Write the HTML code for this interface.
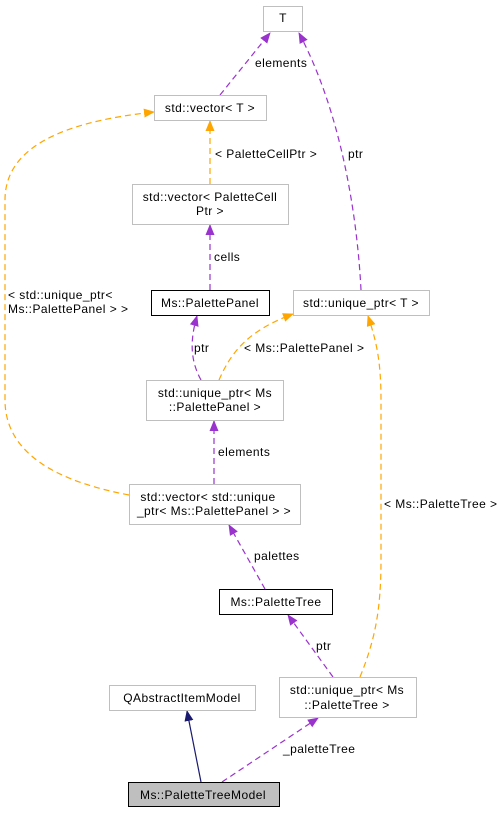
<!DOCTYPE html>
<html><head><meta charset="utf-8"><style>
html,body{margin:0;padding:0;background:#fff}
text{font-family:"Liberation Sans",sans-serif;font-size:12px;letter-spacing:0.45px;fill:#000}
</style></head><body>
<svg width="500" height="813" viewBox="0 0 500 813" xmlns="http://www.w3.org/2000/svg">
<defs>
<marker id="p" markerWidth="11" markerHeight="9" refX="10" refY="4.5" orient="auto" markerUnits="userSpaceOnUse"><path d="M0,0 L11,4.5 L0,9 Z" fill="#9a32cd"/></marker>
<marker id="o" markerWidth="11" markerHeight="9" refX="10" refY="4.5" orient="auto" markerUnits="userSpaceOnUse"><path d="M0,0 L11,4.5 L0,9 Z" fill="#ffa500"/></marker>
<marker id="n" markerWidth="11" markerHeight="9" refX="10" refY="4.5" orient="auto" markerUnits="userSpaceOnUse"><path d="M0,0 L11,4.5 L0,9 Z" fill="#191970"/></marker>
</defs>
<g fill="none" stroke-width="1.2" stroke-dasharray="6,4">
<path d="M220,95 L270,33" stroke="#9a32cd" marker-end="url(#p)"/>
<path d="M361,290 C358,230 345,120 299,33" stroke="#9a32cd" marker-end="url(#p)"/>
<path d="M210,184 L210,121" stroke="#ffa500" marker-end="url(#o)"/>
<path d="M210,290 L210,225" stroke="#9a32cd" marker-end="url(#p)"/>
<path d="M201,380 C190,360 190,340 197,316" stroke="#9a32cd" marker-end="url(#p)"/>
<path d="M219,380 C232,350 250,330 293,314" stroke="#ffa500" marker-end="url(#o)"/>
<path d="M214,484 L214,421" stroke="#9a32cd" marker-end="url(#p)"/>
<path d="M129,495 C60,482 5,455 5,400 L5,200 C5,140 80,120 154,112" stroke="#ffa500" marker-end="url(#o)"/>
<path d="M265,589 L229,525" stroke="#9a32cd" marker-end="url(#p)"/>
<path d="M333,677 L288,615" stroke="#9a32cd" marker-end="url(#p)"/>
<path d="M360,677 C375,640 381,610 381,560 L381,400 C381,360 376,340 368,316" stroke="#ffa500" marker-end="url(#o)"/>
<path d="M222,782 L318,718" stroke="#9a32cd" marker-end="url(#p)"/>
</g>
<path d="M201,782 L187,711" stroke="#191970" stroke-width="1.2" fill="none" marker-end="url(#n)"/>
<g stroke="#bfbfbf" fill="#fff" stroke-width="1">
<rect x="263.5" y="6.5" width="39" height="25"/>
<rect x="154.5" y="95.5" width="112" height="25"/>
<rect x="132.5" y="184.5" width="156" height="40"/>
<rect x="293.5" y="290.5" width="136" height="25"/>
<rect x="146.5" y="380.5" width="137" height="40"/>
<rect x="129.5" y="484.5" width="171" height="40"/>
<rect x="109.5" y="685.5" width="146" height="25"/>
<rect x="279.5" y="677.5" width="137" height="40"/>
</g>
<rect x="151.5" y="290.5" width="118" height="25" fill="#fff" stroke="#000"/>
<rect x="219.5" y="589.5" width="113" height="25" fill="#fff" stroke="#000"/>
<rect x="128.5" y="782.5" width="151" height="24" fill="#bfbfbf" stroke="#000"/>
<g text-anchor="middle">
<text x="283" y="22">T</text>
<text x="210" y="112">std::vector&lt; T &gt;</text>
<text x="210" y="201">std::vector&lt; PaletteCell</text>
<text x="210" y="215">Ptr &gt;</text>
<text x="210" y="307">Ms::PalettePanel</text>
<text x="361" y="307">std::unique_ptr&lt; T &gt;</text>
<text x="215" y="397">std::unique_ptr&lt; Ms</text>
<text x="215" y="411">::PalettePanel &gt;</text>
<text x="208" y="501">std::vector&lt; std::unique</text>
<text x="214" y="515">_ptr&lt; Ms::PalettePanel &gt; &gt;</text>
<text x="276" y="606">Ms::PaletteTree</text>
<text x="182" y="702">QAbstractItemModel</text>
<text x="347" y="694">std::unique_ptr&lt; Ms</text>
<text x="347" y="709">::PaletteTree &gt;</text>
<text x="203" y="799">Ms::PaletteTreeModel</text>
</g>
<text x="255" y="67">elements</text>
<text x="348" y="158">ptr</text>
<text x="215" y="158">&lt; PaletteCellPtr &gt;</text>
<text x="214" y="261">cells</text>
<text x="194" y="352">ptr</text>
<text x="244" y="352">&lt; Ms::PalettePanel &gt;</text>
<text x="8" y="299">&lt; std::unique_ptr&lt;</text>
<text x="8" y="313">Ms::PalettePanel &gt; &gt;</text>
<text x="218" y="456">elements</text>
<text x="254" y="560">palettes</text>
<text x="384" y="508">&lt; Ms::PaletteTree &gt;</text>
<text x="316" y="650">ptr</text>
<text x="283" y="753">_paletteTree</text>
</svg>
</body></html>
